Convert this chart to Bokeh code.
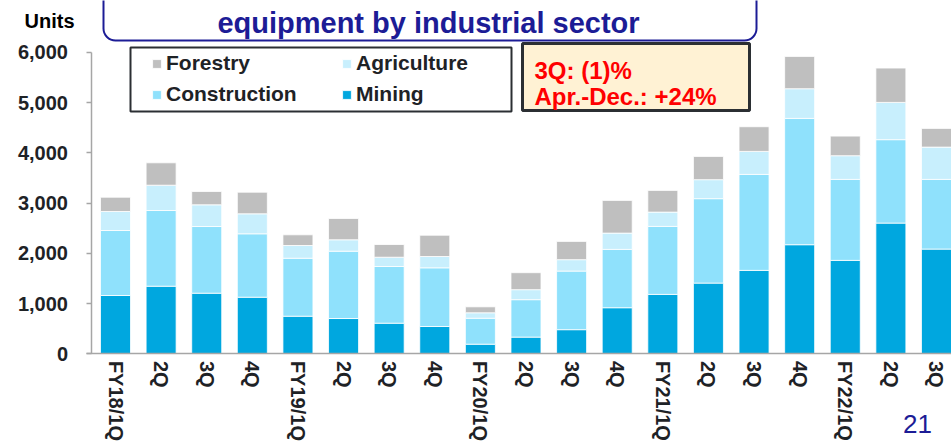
import math
from bokeh.plotting import figure
from bokeh.models import (ColumnDataSource, FixedTicker, Range1d, Label,
                          BoxAnnotation, Legend, LegendItem, LinearAxis)
from bokeh.embed import file_html
from bokeh.resources import INLINE

# ---------------- data ----------------
categories = ["FY18/1Q", "2Q", "3Q", "4Q", "FY19/1Q", "2Q", "3Q", "4Q",
              "FY20/1Q", "2Q", "3Q", "4Q", "FY21/1Q", "2Q", "3Q", "4Q",
              "FY22/1Q", "2Q", "3Q"]
mining = [1162, 1347, 1208, 1128, 750, 704, 611, 545, 193, 334, 482, 919,
          1184, 1409, 1662, 2173, 1861, 2603, 2086]
construction = [1294, 1507, 1327, 1262, 1154, 1340, 1128, 1168, 517, 745,
                1166, 1161, 1353, 1680, 1910, 2514, 1612, 1660, 1387]
agriculture = [378, 503, 432, 398, 253, 227, 185, 225, 108, 199, 227, 324,
               285, 378, 458, 590, 471, 742, 642]
forestry = [284, 446, 265, 430, 213, 424, 253, 424, 119, 338, 364, 651,
            432, 463, 491, 643, 390, 683, 373]
series_names = ["Mining", "Construction", "Agriculture", "Forestry"]
y_ticks = [0, 1000, 2000, 3000, 4000, 5000, 6000]
y_tick_labels = ["0", "1,000", "2,000", "3,000", "4,000", "5,000", "6,000"]
note_lines = ["3Q: (1)%", "Apr.-Dec.: +24%"]
title_text = "equipment by industrial sector"
unit_text = "Units"
page_number = "21"

# ---------------- styles ----------------
colors = ["#00a7df", "#8fe1fc", "#c8effd", "#bfbfbf"]
FONT = "Liberation Sans"
DARK = "#1e2226"
NAVY = "#1c1c96"
W, H = 951, 444

# page-pixel helpers (layout only)
X0, XSTEP = 115.0, 45.61
Y0, YSCALE = 353.4, 0.05025


def px(x):
    return (x - X0) / XSTEP


def py(y):
    return (Y0 - y) / YSCALE


source = ColumnDataSource(dict(
    x=list(range(len(categories))),
    mining=mining, construction=construction,
    agriculture=agriculture, forestry=forestry,
))

p = figure(width=W, height=H, output_backend="svg", toolbar_location=None,
           x_range=Range1d(px(0), px(W)), y_range=Range1d(py(H), py(0)),
           x_axis_location=None, y_axis_location=None,
           min_border_left=0, min_border_right=0, min_border_top=0,
           min_border_bottom=0)
p.outline_line_color = None
p.xgrid.visible = False
p.ygrid.visible = False

renderers = p.vbar_stack(["mining", "construction", "agriculture", "forestry"],
                         x="x", width=0.658, color=colors, line_color="white",
                         line_width=0.8, source=source)

# y axis
ya = LinearAxis(fixed_location=px(90.5))
ya.ticker = FixedTicker(ticks=y_ticks)
ya.major_label_overrides = {t: l for t, l in zip(y_ticks, y_tick_labels)}
ya.bounds = (0, 6000)
ya.axis_line_color = "#a6a6a6"
ya.axis_line_width = 1.5
ya.major_tick_line_color = "#a6a6a6"
ya.major_tick_line_width = 1.5
ya.major_tick_in = 0
ya.major_tick_out = 5
ya.minor_tick_line_color = None
ya.major_label_standoff = 18
ya.major_label_text_font = FONT
ya.major_label_text_font_style = "bold"
ya.major_label_text_font_size = "20px"
ya.major_label_text_color = DARK
p.add_layout(ya, "left")

# x axis with category labels
xa = LinearAxis(fixed_location=0)
xa.ticker = FixedTicker(ticks=list(range(len(categories))))
xa.major_label_overrides = {i: c for i, c in enumerate(categories)}
xa.bounds = (px(86), px(W))
xa.axis_line_color = "#a6a6a6"
xa.axis_line_width = 1.5
xa.major_tick_line_color = None
xa.minor_tick_line_color = None
xa.major_tick_in = 0
xa.major_tick_out = 0
xa.major_label_orientation = -math.pi / 2
xa.major_label_standoff = 7
xa.major_label_text_font = FONT
xa.major_label_text_font_style = "bold"
xa.major_label_text_font_size = "20px"
xa.major_label_text_color = DARK
p.add_layout(xa, "below")

# title box
p.add_layout(BoxAnnotation(left=px(103), right=px(756), bottom=py(40), top=py(-30),
                           fill_color="white", fill_alpha=1.0,
                           line_color=NAVY, line_alpha=1.0, line_width=2,
                           border_radius=12))
p.add_layout(Label(x=px(428), y=py(22), text=title_text, text_align="center",
                   text_baseline="alphabetic", text_font=FONT,
                   text_font_style="bold", text_font_size="29px",
                   text_color=NAVY))

# units
p.add_layout(Label(x=px(24), y=py(20), text=unit_text, text_align="left",
                   text_baseline="alphabetic", text_font=FONT,
                   text_font_style="bold", text_font_size="20px",
                   text_color="black"))

# legend box
p.add_layout(BoxAnnotation(left=px(130), right=px(511), bottom=py(111), top=py(47),
                           fill_color="white", fill_alpha=1.0,
                           line_color="#2b2f33", line_alpha=1.0, line_width=2))
items = [LegendItem(label=series_names[k], renderers=[renderers[k]]) for k in [3, 2, 1, 0]]
legend = Legend(items=items, orientation="horizontal", ncols=2,
                location=(151, 337), padding=0, margin=0, spacing=5,
                glyph_width=11, glyph_height=11, label_standoff=4,
                label_width=170, label_height=26,
                label_text_font=FONT, label_text_font_style="bold",
                label_text_font_size="21px", label_text_color=DARK,
                border_line_color=None, background_fill_alpha=0)
p.add_layout(legend, "center")

# note box
p.add_layout(BoxAnnotation(left=px(522), right=px(749), bottom=py(110), top=py(43),
                           fill_color="#fff2d4", fill_alpha=1.0,
                           line_color="#2b2f33", line_alpha=1.0, line_width=3))
for txt, base in zip(note_lines, [70, 96]):
    p.add_layout(Label(x=px(534), y=py(base), text=txt, text_align="left",
                       text_baseline="alphabetic", text_font=FONT,
                       text_font_style="bold", text_font_size="24px",
                       text_color="#ff0000"))

# page number
p.add_layout(Label(x=px(917), y=py(423), text=page_number, text_align="center",
                   text_baseline="alphabetic", text_font=FONT,
                   text_font_size="26px", text_color=NAVY))

open("out.html", "w").write(file_html(p, INLINE))
